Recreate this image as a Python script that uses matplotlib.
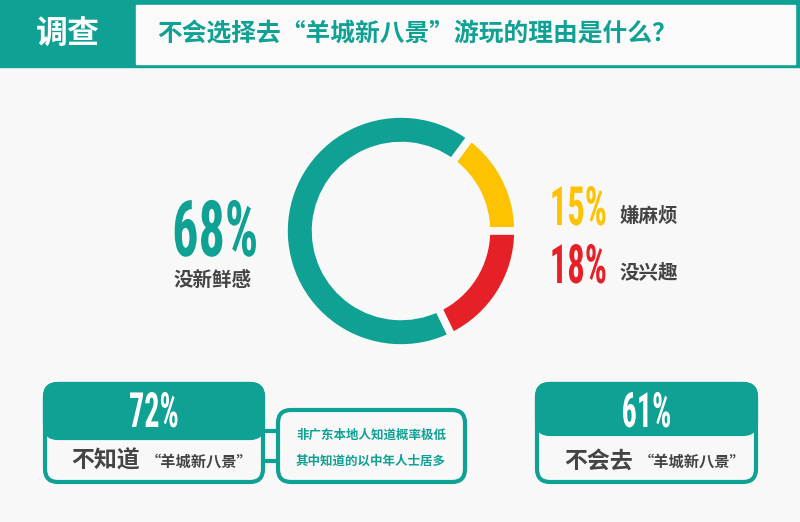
import matplotlib.pyplot as plt
from matplotlib.patches import FancyBboxPatch, Rectangle
from matplotlib.patheffects import AbstractPathEffect
from matplotlib.transforms import Affine2D

plt.rcParams['font.family'] = ['Noto Sans CJK SC', 'DejaVu Sans']

# data
reasons = ["嫌麻烦", "没新鲜感", "没兴趣"]
shares = [15, 68, 18]
ring_colors = ["#fdc300", "#0fa193", "#e52127"]
unknown_pct = 72
not_going_pct = 61
title = "不会选择去“羊城新八景”游玩的理由是什么？"
notes = ["非广东本地人知道概率极低", "其中知道的以中年人士居多"]

TEAL = "#0fa193"
BG = "#f8f8f8"
DARK = "#444444"
NUM = ['Roboto Condensed', 'Roboto', 'DejaVu Sans']


class Squeeze(AbstractPathEffect):
    # narrow the glyphs around their own centre (condensed look)
    def __init__(self, sx):
        super().__init__()
        self.sx = sx

    def draw_path(self, renderer, gc, tpath, affine, rgbFace=None):
        ext = tpath.get_extents()
        c = (ext.x0 + ext.x1) / 2
        sq = Affine2D().translate(-c, 0).scale(self.sx, 1).translate(c, 0)
        renderer.draw_path(gc, tpath, sq + affine, rgbFace)


def big_num(x, y, s, color, size, sx=0.6, **kw):
    ax.text(x, y, s, color=color, fontsize=size, fontweight="bold", family=NUM,
            ha="center", va="baseline", path_effects=[Squeeze(sx)], **kw)


fig = plt.figure(figsize=(8, 5.22), dpi=100, facecolor=BG)
ax = fig.add_axes([0, 0, 1, 1])
ax.set_xlim(0, 800)
ax.set_ylim(522, 0)
ax.axis("off")

# header
ax.add_patch(Rectangle((0, 0), 800, 67, color=TEAL, zorder=1))
ax.add_patch(Rectangle((136, 5), 659, 59, color="#fafafa", zorder=2))
ax.text(68, 34, "调查", color="white", fontsize=23, fontweight="bold",
        ha="center", va="center", zorder=3)
ax.text(157, 34, title, color=TEAL, fontsize=17.8, fontweight="bold",
        ha="left", va="center", zorder=3)

# donut
cx, cy, R = 401, 231, 117
pax = fig.add_axes([(cx - R) / 800, 1 - (cy + R) / 522, 2 * R / 800, 2 * R / 522])
pax.pie(shares, colors=ring_colors, startangle=0, counterclock=True, radius=1,
        wedgeprops=dict(width=0.27, edgecolor=BG, linewidth=5.5))
pax.set_xlim(-1, 1)
pax.set_ylim(-1, 1)
pax.axis("off")

# labels next to donut
big_num(215, 256, f"{shares[1]}%", ring_colors[1], 56, sx=0.67)
ax.text(213, 280, reasons[1], color=DARK, fontsize=14, fontweight="bold",
        ha="center", va="center")
big_num(578, 225, f"{shares[0]}%", ring_colors[0], 39, sx=0.64)
ax.text(620, 216, reasons[0], color=DARK, fontsize=14, fontweight="bold",
        ha="left", va="center")
big_num(578, 283, f"{shares[2]}%", ring_colors[2], 39, sx=0.64)
ax.text(620, 273, reasons[2], color=DARK, fontsize=14, fontweight="bold",
        ha="left", va="center")


def stat_box(x0, x1, y0, y1, ysplit, pct, word):
    ax.add_patch(FancyBboxPatch((x0, y0), x1 - x0, y1 - y0,
                                boxstyle="round,pad=0,rounding_size=13",
                                fc=BG, ec=TEAL, lw=3, zorder=2))
    ax.add_patch(FancyBboxPatch((x0, y0), x1 - x0, ysplit - y0,
                                boxstyle="round,pad=0,rounding_size=13",
                                fc=TEAL, ec=TEAL, lw=3, zorder=3))
    xm = (x0 + x1) / 2
    big_num(xm, 427, f"{pct}%", "white", 35, sx=0.62, zorder=4)
    ax.text(xm - 14, 461, word, color=DARK, fontsize=16.5, fontweight="bold",
            ha="right", va="center", zorder=4)
    ax.text(xm - 8, 462, "“羊城新八景”", color=DARK, fontsize=11,
            fontweight="bold", ha="left", va="center", zorder=4)


stat_box(45, 263, 384, 482, 438, unknown_pct, "不知道")
stat_box(537, 756, 384, 482, 434, not_going_pct, "不会去")

# connector + note box
for yy in (431, 461):
    ax.plot([263, 278], [yy, yy], color=TEAL, lw=3, zorder=1)
ax.add_patch(FancyBboxPatch((278, 410), 187, 72,
                            boxstyle="round,pad=0,rounding_size=13",
                            fc=BG, ec=TEAL, lw=3, zorder=2))
ax.text(371, 435, notes[0], color=TEAL, fontsize=9, fontweight="bold",
        ha="center", va="center", zorder=4)
ax.text(371, 461, notes[1], color=TEAL, fontsize=9, fontweight="bold",
        ha="center", va="center", zorder=4)

fig.savefig("out.png", dpi=100, facecolor=BG)
